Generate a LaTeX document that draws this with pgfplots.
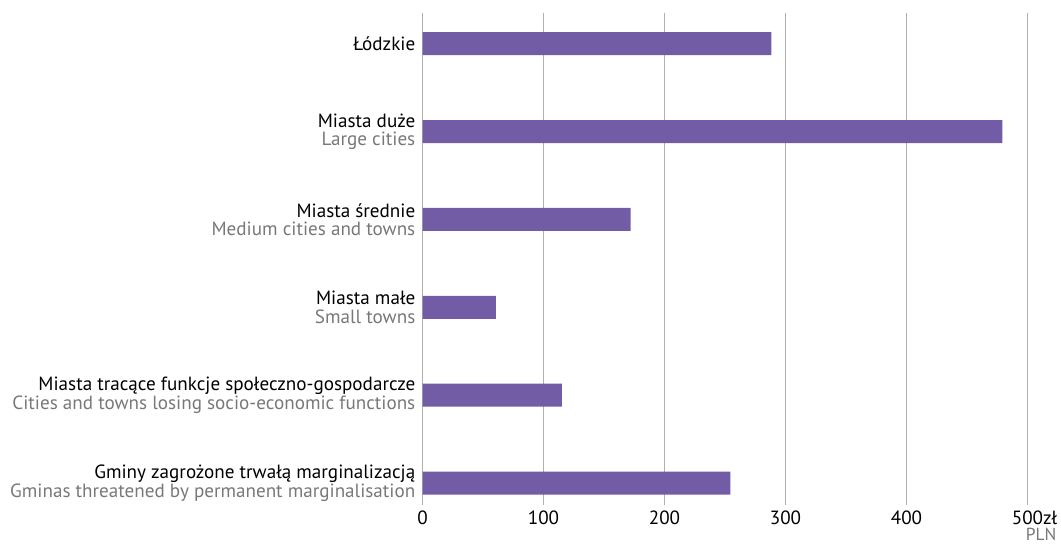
\documentclass[border=0pt]{standalone}
\usepackage{fontspec}
\setmainfont{PT Sans}
\usepackage{pgfplots}
\pgfplotsset{compat=1.18}
\definecolor{barc}{RGB}{114,92,166}
\definecolor{engc}{RGB}{120,120,120}
\definecolor{gridc}{RGB}{175,175,175}
\begin{document}
\begin{tikzpicture}[x=1bp,y=1bp]
\useasboundingbox (0,0) rectangle (1061,546);
\begin{axis}[
  at={(422.5bp,41bp)}, anchor=south west,
  scale only axis, width=605bp, height=492bp,
  xmin=0, xmax=500, ymin=-0.25, ymax=5.35,
  axis line style={draw=none},
  xmajorgrids, grid style={gridc, line width=1pt},
  xtick={0,100,200,300,400,500},
  xticklabels={0,100,200,300,400,{500\rlap{zł}}},
  major tick length=4bp,
  xtick style={gridc, line width=1pt},
  ytick={0,1,2,3,4,5},
  ytick style={draw=none},
  yticklabels={
    {Gminy zagrożone trwałą marginalizacją\\\textcolor{engc}{Gminas threatened by permanent marginalisation}},
    {Miasta tracące funkcje społeczno-gospodarcze\\\textcolor{engc}{Cities and towns losing socio-economic functions}},
    {Miasta małe\\\textcolor{engc}{Small towns}},
    {Miasta średnie\\\textcolor{engc}{Medium cities and towns}},
    {Miasta duże\\\textcolor{engc}{Large cities}},
    {Łódzkie}},
  yticklabel style={font=\fontsize{19.2}{18.5}\selectfont, align=right, inner sep=0pt, xshift=-7bp},
  xticklabel style={font=\fontsize{19.2}{19}\selectfont, inner sep=0pt, yshift=-6bp},
  /pgf/number format/assume math mode=true,
  clip=false,
]
\addplot[xbar, bar width=23bp, fill=barc, draw=none] coordinates {
  (254.5,0) (115.2,1) (60.7,2) (172,3) (479.3,4) (288.4,5)
};
\node[anchor=base east, text=engc, font=\fontsize{17.5}{18}\selectfont, inner sep=0pt] at ([xshift=29bp,yshift=-36bp]rel axis cs:1,0) {PLN};
\end{axis}
\end{tikzpicture}
\end{document}
